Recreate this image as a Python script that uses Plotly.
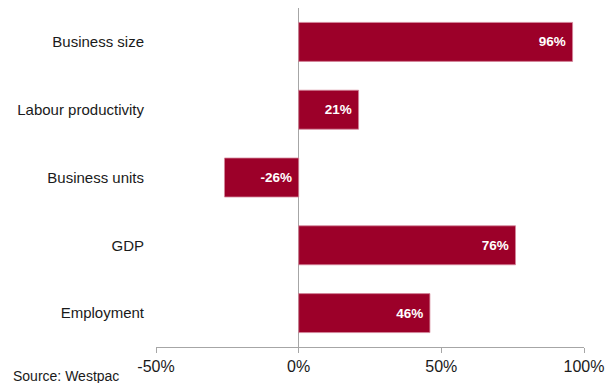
import plotly.graph_objects as go

# Contribution by component (%), listed top to bottom
categories = ["Business size", "Labour productivity", "Business units", "GDP", "Employment"]
values = [96, 21, -26, 76, 46]
tick_values = [-50, 0, 50, 100]
tick_labels = ["-50%", "0%", "50%", "100%"]

BAR_RED = "#9C0029"
AXIS_GREY = "#A6A6A6"
FONT = "Liberation Sans, Arial, sans-serif"
NBSP = "\u00a0"

W, H = 606, 383
M_L, M_R, M_T, M_B = 156, 22, 8, 36

fig = go.Figure()

# Positive bars carry their label at the bar end, negative ones next to the zero line
for sign, anchor in ((1, "end"), (-1, "start")):
    cats = [c for c, v in zip(categories, values) if v * sign > 0]
    vals = [v for v in values if v * sign > 0]
    fig.add_trace(
        go.Bar(
            x=vals,
            y=cats,
            orientation="h",
            marker=dict(color=BAR_RED, line=dict(color="#D4889C", width=0.8)),
            width=0.575,
            text=[f"{v}%{NBSP}" for v in vals],
            textposition="inside",
            insidetextanchor=anchor,
            textangle=0,
            constraintext="none",
            textfont=dict(family=FONT, size=13.5, color="white", weight="bold"),
            hoverinfo="skip",
        )
    )

fig.update_layout(
    width=W,
    height=H,
    margin=dict(l=M_L, r=M_R, t=M_T, b=M_B, pad=0, autoexpand=False),
    paper_bgcolor="white",
    plot_bgcolor="white",
    showlegend=False,
    barmode="overlay",
    font=dict(family=FONT, color="#1a1a1a"),
    xaxis=dict(
        range=[-50, 100],
        tickvals=tick_values,
        ticktext=tick_labels,
        automargin=False,
        showgrid=False,
        zeroline=True,
        zerolinecolor=AXIS_GREY,
        zerolinewidth=1.2,
        showline=True,
        linecolor=AXIS_GREY,
        linewidth=1.2,
        ticks="outside",
        ticklen=5,
        tickcolor=AXIS_GREY,
        tickwidth=1.2,
        tickfont=dict(family=FONT, size=16, color="#1a1a1a"),
        fixedrange=True,
    ),
    yaxis=dict(
        categoryorder="array",
        categoryarray=categories,
        autorange="reversed",
        automargin=False,
        showgrid=False,
        zeroline=False,
        showline=False,
        ticks="",
        ticklabelstandoff=11,
        tickfont=dict(family=FONT, size=15, color="#1a1a1a"),
        fixedrange=True,
    ),
)

plot_w = W - M_L - M_R
plot_h = H - M_T - M_B
fig.add_annotation(
    text="Source: Westpac",
    xref="paper",
    yref="paper",
    x=(11 - M_L) / plot_w,
    y=-(376 - (H - M_B)) / plot_h,
    xanchor="left",
    yanchor="middle",
    showarrow=False,
    font=dict(family=FONT, size=14, color="#1a1a1a"),
)

fig.write_html("out.html")
